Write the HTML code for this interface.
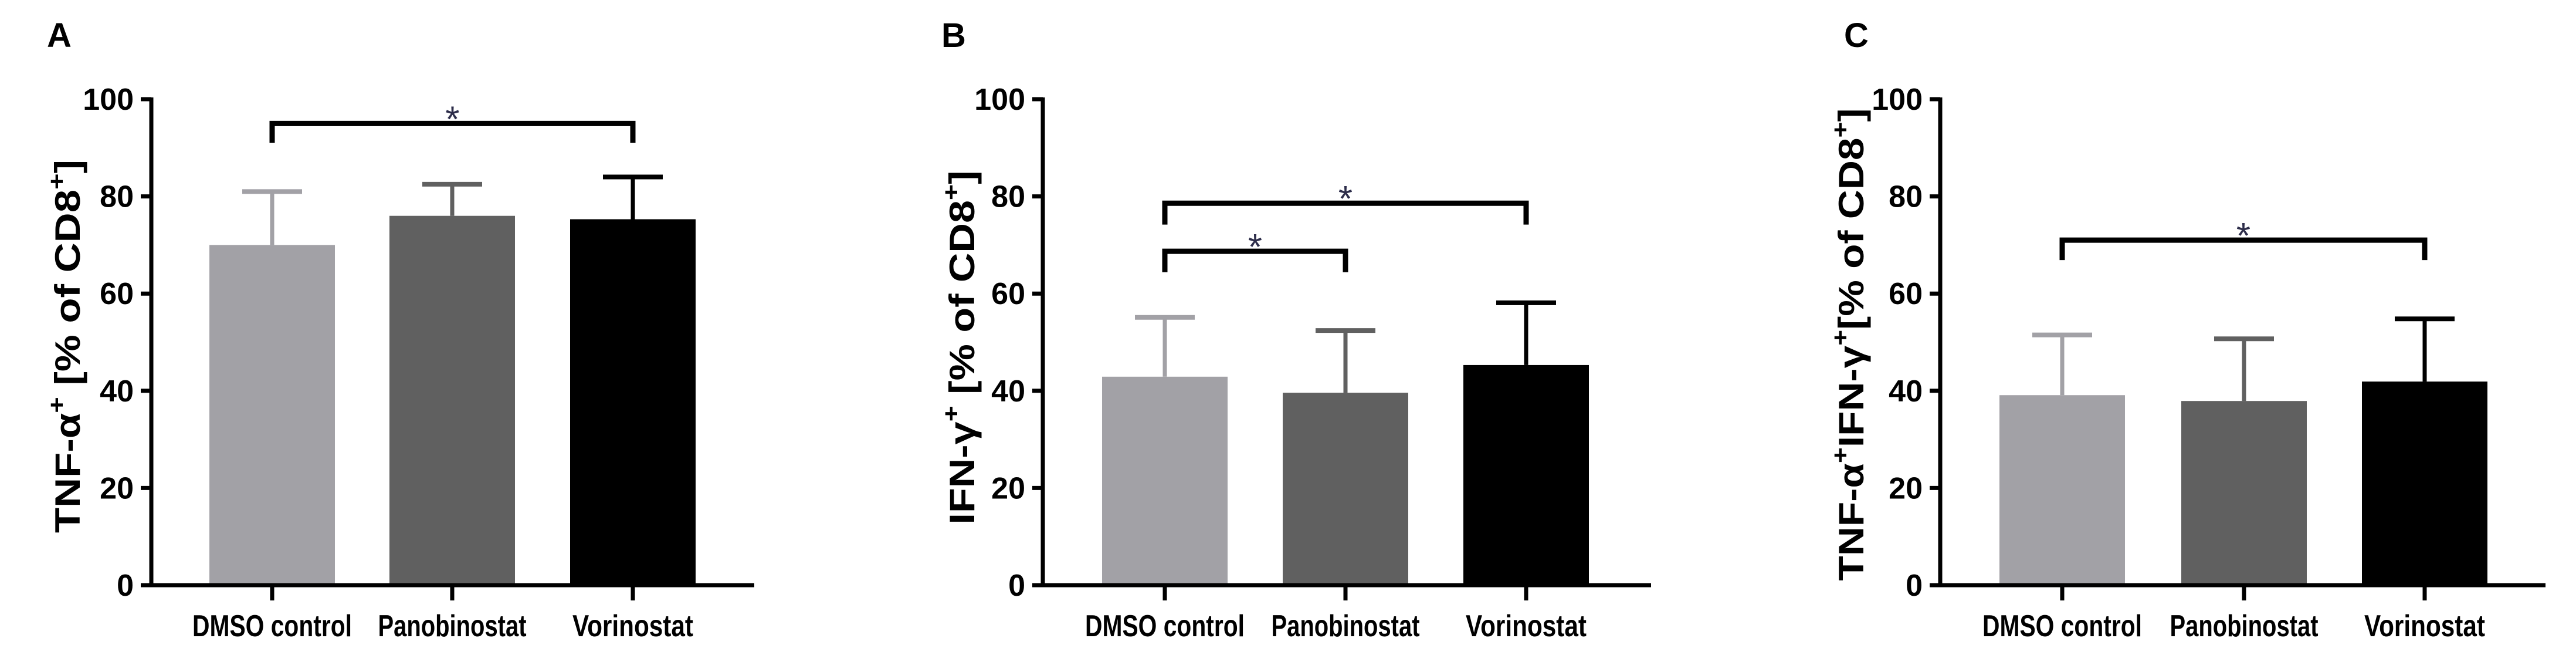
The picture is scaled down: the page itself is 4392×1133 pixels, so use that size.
<!DOCTYPE html>
<html><head><meta charset="utf-8"><style>
html,body{margin:0;padding:0;background:#fff;}
svg{display:block;}
</style></head><body>
<svg id="fig" width="4392" height="1133" viewBox="0 0 4392 1133" xmlns="http://www.w3.org/2000/svg"></svg>
<script>
const categories = ["DMSO control", "Panobinostat", "Vorinostat"];
const tickValues = [0, 20, 40, 60, 80, 100];
const panelLetters = ["A", "B", "C"];
const meansA = [70.0, 76.0, 75.3];
const errorsA = [81.0, 82.5, 84.0];
const meansB = [42.9, 39.6, 45.3];
const errorsB = [55.1, 52.4, 58.1];
const meansC = [39.1, 37.9, 41.9];
const errorsC = [51.5, 50.7, 54.8];
const bracketsA = [[0, 2, 95.0, 91.0]];
const bracketsB = [[0, 2, 78.6, 74.2], [0, 1, 68.7, 64.4]];
const bracketsC = [[0, 2, 71.0, 66.9]];

const NS = "http://www.w3.org/2000/svg";
const svg = document.getElementById("fig");
const colors = ["#a2a1a6", "#606060", "#000000"];
const Y0 = 997, YPX = 8.28;
function yScale(v){ return Y0 - v * YPX; }

function mk(tag, attrs, parent){
  const e = document.createElementNS(NS, tag);
  for (const k in attrs) e.setAttribute(k, attrs[k]);
  (parent || svg).appendChild(e);
  return e;
}

const panels = [
  {axisX:258, endX:1286, centers:[464,771,1079], letterX:80, titleX:136, titleLen:636, titleY:590,
   means:meansA, errs:errorsA, brackets:bracketsA,
   title:[["TNF-α",0],["+",1],[" [% of CD8",0],["+",1],["]",0]]},
  {axisX:1778, endX:2815, centers:[1986,2294,2602], letterX:1605, titleX:1661, titleLen:603, titleY:592,
   means:meansB, errs:errorsB, brackets:bracketsB,
   title:[["IFN-γ",0],["+",1],[" [% of CD8",0],["+",1],["]",0]]},
  {axisX:3308, endX:4340, centers:[3516,3826,4134], letterX:3144, titleX:3177, titleLen:805, titleY:587,
   means:meansC, errs:errorsC, brackets:bracketsC,
   title:[["TNF-α",0],["+",1],["IFN-γ",0],["+",1],["[% of CD8",0],["+",1],["]",0]]}
];

panels.forEach((p, pi) => {
  const g = mk("g", {});
  
  

  const lt = mk("text", {x:p.letterX, y:80, "font-family":"Liberation Sans, sans-serif", "font-weight":"bold", "font-size":58, fill:"#000"}, g);
  lt.textContent = panelLetters[pi];
  
  

  p.means.forEach((m, i) => {
    const cx = p.centers[i];
    const bar = mk("rect", {x:cx-107, y:yScale(m), width:214, height:yScale(0)-yScale(m), fill:colors[i]}, g);
    
    
    const eg = mk("g", {stroke:colors[i]}, g);
    
    
    mk("line", {x1:cx, x2:cx, y1:yScale(m), y2:yScale(p.errs[i]), "stroke-width":7}, eg);
    mk("line", {x1:cx-51, x2:cx+51, y1:yScale(p.errs[i]), y2:yScale(p.errs[i]), "stroke-width":8}, eg);
  });

  const ax = mk("g", {stroke:"#000", "stroke-width":7}, g);
  
  
  mk("line", {x1:p.axisX, x2:p.axisX, y1:yScale(100)-3, y2:Y0+3}, ax);
  mk("line", {x1:p.axisX-18, x2:p.endX, y1:Y0, y2:Y0}, ax);
  tickValues.forEach(t => {
    mk("line", {x1:p.axisX-18, x2:p.axisX, y1:yScale(t), y2:yScale(t)}, ax);
    const tl = mk("text", {x:p.axisX-30, y:yScale(t)+18, "text-anchor":"end", "font-family":"Liberation Sans Narrow, Liberation Sans, sans-serif", "font-weight":"bold", "font-size":52, fill:"#000"}, g);
    tl.textContent = t;
    
    
  });
  const catW = [272, 253, 206];
  p.centers.forEach((cx, i) => {
    mk("line", {x1:cx, x2:cx, y1:Y0, y2:Y0+26}, ax);
    const cl = mk("text", {x:cx, y:1084, "text-anchor":"middle", "font-family":"Liberation Sans Narrow, Liberation Sans, sans-serif", "font-weight":"bold", "font-size":52, fill:"#000", textLength:catW[i], lengthAdjust:"spacingAndGlyphs"}, g);
    cl.textContent = categories[i];
    
    
  });

  const tt = mk("text", {x:0, y:0, transform:`translate(${p.titleX},${p.titleY}) rotate(-90)`, "text-anchor":"middle", "font-family":"Liberation Sans, sans-serif", "font-weight":"bold", "font-size":60, fill:"#000", textLength:p.titleLen, lengthAdjust:"spacingAndGlyphs"}, g);
  
  
  p.title.forEach(([s, sup]) => {
    const ts = mk("tspan", sup ? {dy:-26, "font-size":40} : {dy:0}, tt);
    ts.textContent = s;
    if (sup) { const r = mk("tspan", {dy:26, "font-size":1}, tt); r.textContent = "\u200b"; }
  });

  p.brackets.forEach(([a, b, top, drop]) => {
    const bg = mk("g", {}, g);
    
    
    const x1 = p.centers[a], x2 = p.centers[b];
    mk("polyline", {points:`${x1},${yScale(drop)} ${x1},${yScale(top)} ${x2},${yScale(top)} ${x2},${yScale(drop)}`, fill:"none", stroke:"#000", "stroke-width":9}, bg);
    const st = mk("text", {x:(x1+x2)/2, y:yScale(top)+14, "text-anchor":"middle", "font-family":"Liberation Sans, sans-serif", "font-size":62, fill:"#2d2d4a"}, bg);
    st.textContent = "*";
    
    
  });
});
</script>
</body></html>
